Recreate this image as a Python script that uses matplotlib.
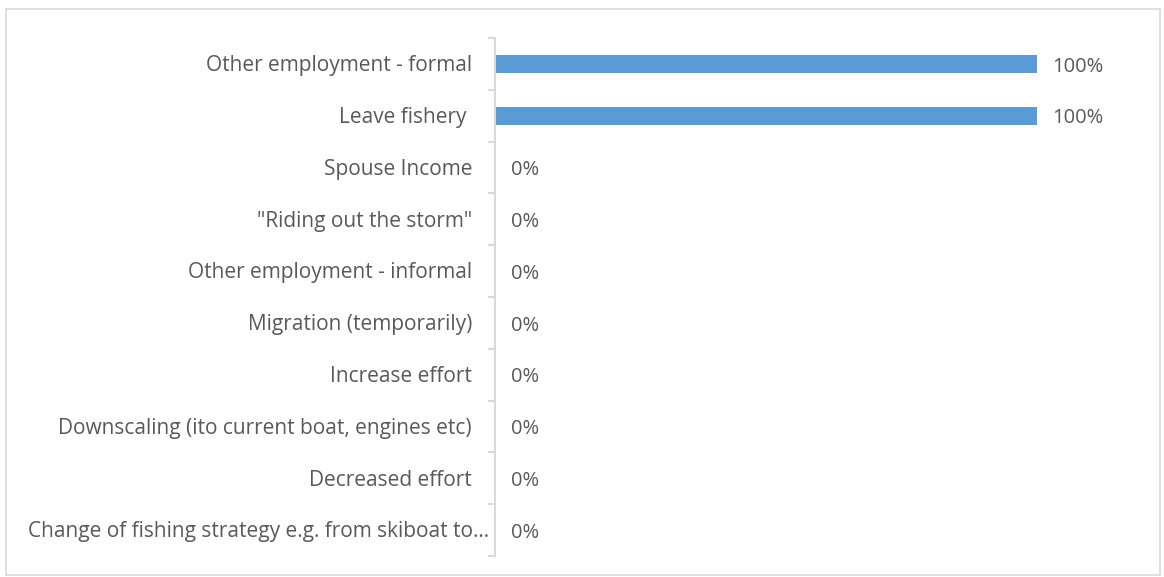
import matplotlib
matplotlib.use('Agg')
import matplotlib.pyplot as plt
import matplotlib.transforms as mtransforms
import numpy as np
from matplotlib.patches import Rectangle

categories = ['Other employment - formal', 'Leave fishery ', 'Spouse Income',
              '"Riding out the storm"', 'Other employment - informal',
              'Migration (temporarily)', 'Increase effort',
              'Downscaling (ito current boat, engines etc)', 'Decreased effort',
              'Change of fishing strategy e.g. from skiboat to\u2026']
values = [1.0, 1.0, 0, 0, 0, 0, 0, 0, 0, 0]
value_labels = ['100%', '100%', '0%', '0%', '0%', '0%', '0%', '0%', '0%', '0%']

plt.rcParams['font.family'] = ['Open Sans', 'DejaVu Sans']
text_col = '#595959'
grid_col = '#d9d9d9'

fig = plt.figure(figsize=(11.64, 5.77), dpi=100)
W, H = 1164, 577
ax = fig.add_axes([495 / W, (577 - 556) / H, 542 / W, 518 / H])

y = np.arange(len(categories))
ax.barh(y, values, height=0.35, color='#5b9bd5')
ax.set_xlim(0, 1)
ax.set_ylim(len(categories) - 0.5, -0.5)

# value labels, nudged a bit down like the original
lab_off = mtransforms.ScaledTranslation(0, -2 / 72, fig.dpi_scale_trans)
for i, (v, lab) in enumerate(zip(values, value_labels)):
    xpos = v + 15 / 542 if v > 0 else 16 / 542
    ax.text(xpos, i, lab, transform=ax.transData + lab_off, ha='left',
            va='center', fontsize=14.5, color=text_col)

ax.set_yticks(y)
ax.set_yticklabels(categories, fontsize=15, color=text_col)
ax.tick_params(axis='y', which='major', length=0, pad=16.5)
ax.set_yticks(np.arange(-0.5, len(categories), 1), minor=True)
ax.tick_params(axis='y', which='minor', length=5, color=grid_col, width=1.5)
ax.set_xticks([])
for s in ['top', 'right', 'bottom']:
    ax.spines[s].set_visible(False)
ax.spines['left'].set_color(grid_col)
ax.spines['left'].set_linewidth(1.5)

# the long truncated label sits closer to the axis
for t in ax.get_yticklabels():
    shift = 17 if t.get_text().startswith('Change') else 0
    t.set_transform(t.get_transform() +
                    mtransforms.ScaledTranslation(shift / 100, 0.5 / 72, fig.dpi_scale_trans))

fig.patches.append(Rectangle((6 / W, 2 / H), 1154 / W, 566 / H,
                             transform=fig.transFigure, fill=False,
                             edgecolor=grid_col, linewidth=1.2))

fig.savefig('out.png', dpi=100)
